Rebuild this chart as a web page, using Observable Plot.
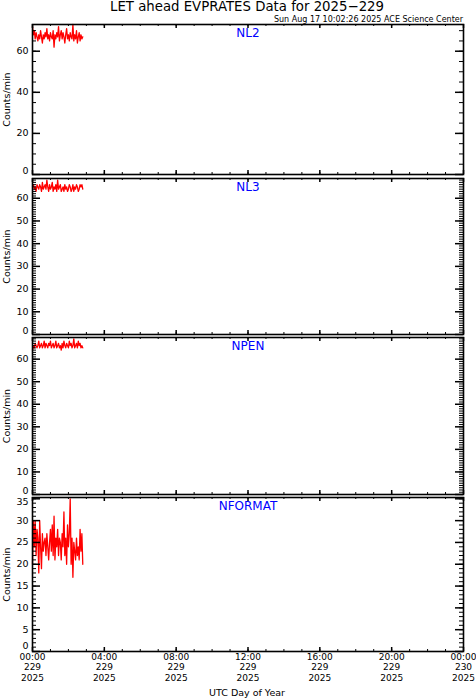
<!DOCTYPE html>
<html><head><meta charset="utf-8">
<script src="https://cdn.jsdelivr.net/npm/d3@7"></script>
<script src="https://cdn.jsdelivr.net/npm/@observablehq/plot@0.6"></script>
<style>
body{margin:0;background:#fff;}
#root{position:relative;width:476px;height:700px;font-family:"DejaVu Sans",sans-serif;color:#000;overflow:hidden;}
.abs{position:absolute;white-space:nowrap;}
#title{left:0;width:494px;top:0;text-align:center;font-size:13.3px;line-height:13px;}
#sub{right:13px;top:15px;font-size:8px;line-height:9px;}
#xlab{left:0;width:494px;top:687px;text-align:center;font-size:9.5px;line-height:12px;}
</style>
</head><body>
<div id="root">
  <div id="title" class="abs">LET ahead EVPRATES Data for 2025−229</div>
  <div id="sub" class="abs">Sun Aug 17 10:02:26 2025 ACE Science Center</div>
  <div id="xlab" class="abs">UTC Day of Year</div>
</div>
<script>
// ---- data ----
const stepMinutes = 3;   // sampling interval of the series (minutes from 00:00 UT)
const nl2 = [72,68,70,66,69,67,65,68,66,70,67,64,68,66,69,67,71,66,68,65,69,67,66,70,62,68,66,69,67,72,65,68,70,66,69,67,64,68,71,66,68,65,69,67,66,73,65,68,66,70,64,67,69,65,68,66,67];
const nl3 = [65,66,64,65,63,66,65,64,66,65,63,67,64,65,66,64,68,65,63,66,64,65,67,63,65,64,66,63,68,64,65,66,63,64,65,63,66,64,65,63,64,66,65,63,64,66,63,65,64,66,65,63,64,66,65,66,64];
const npen = [64,66,65,67,66,65,66,68,65,66,67,65,66,68,65,67,66,65,67,66,68,65,66,67,65,66,68,65,66,67,65,66,64,67,65,68,66,65,67,66,65,68,66,67,65,66,69,65,66,67,65,68,66,67,65,66,65];
const nformat = [20,30,24,30,22,28,26,18,30,24,19,27,23,25,26,22,27,24,21,25,28,23,29,22,31,21,26,24,28,22,26,25,21,27,24,32,22,26,20,29,24,27,35,20,26,17,25,23,21,26,22,24,21,28,23,27,20];
const panelNames = ["NL2","NL3","NPEN","NFORMAT"];
const hourTicks = [0,4,8,12,16,20,24];
const timeLabels = ["00:00","04:00","08:00","12:00","16:00","20:00","00:00"];
const dayLabels = ["229","229","229","229","229","229","230"];
const yearLabels = ["2025","2025","2025","2025","2025","2025","2025"];
const yMajor1 = [0,20,40,60];
const yMajor2 = [0,10,20,30,40,50,60];
const yMajor3 = [0,10,20,30,40,50,60];
const yMajor4 = [0,5,10,15,20,25,30,35];

// ---- layout ----
const W = 476, ML = 32, MR = 13, innerW = W - ML - MR;
const panels = [
  {name: panelNames[0], values: nl2, ymax: 73, major: yMajor1, minorStep: 5, top: 24, bottom: 174},
  {name: panelNames[1], values: nl3, ymax: 68.7, major: yMajor2, minorStep: 1, top: 178, bottom: 334},
  {name: panelNames[2], values: npen, ymax: 69.6, major: yMajor3, minorStep: 1, top: 337, bottom: 494},
  {name: panelNames[3], values: nformat, ymax: 35.3, major: yMajor4, minorStep: 1, top: 497, bottom: 651}
];
const root = document.getElementById("root");

panels.forEach((p, k) => {
  const isLast = k === panels.length - 1;
  const mt = 4, mb = isLast ? 46 : 4;
  const h = p.bottom - p.top;
  const data = p.values.map((v, i) => ({t: i * stepMinutes / 60, v}));
  const yMinor = d3.range(0, p.ymax + 1e-9, p.minorStep);
  const xMinor = d3.range(0, 24.0001, 1);
  // tick labels: the bottom one is lifted and one at the very top is lowered, as in the reference
  const bottomLab = p.major.filter(d => d === 0);
  const topLab = p.major.filter(d => d > 0 && p.ymax - d < 1);
  const midLab = p.major.filter(d => d > 0 && p.ymax - d >= 1);
  const labOpts = {anchor: "left", tickSize: 0, tickPadding: 4, label: null};
  const marks = [
    Plot.line(data, {x: "t", y: "v", stroke: "#ff0000", strokeWidth: 1.3}),
    Plot.ruleY(yMinor, {insetRight: innerW - 4, stroke: "black", strokeWidth: 1}),
    Plot.ruleY(yMinor, {insetLeft: innerW - 4, stroke: "black", strokeWidth: 1}),
    Plot.ruleY(p.major, {insetRight: innerW - 8, stroke: "black", strokeWidth: 1.5}),
    Plot.ruleY(p.major, {insetLeft: innerW - 8, stroke: "black", strokeWidth: 1.5}),
    Plot.ruleX(xMinor, {insetBottom: h - 2, stroke: "black", strokeWidth: 1}),
    Plot.ruleX(xMinor, {insetTop: h - 2, stroke: "black", strokeWidth: 1}),
    Plot.ruleX(hourTicks, {insetBottom: h - 4, stroke: "black", strokeWidth: 1.5}),
    Plot.ruleX(hourTicks, {insetTop: h - 4, stroke: "black", strokeWidth: 1.5}),
    Plot.frame({stroke: "black", strokeWidth: 1.6}),
    Plot.axisY(midLab, labOpts),
    Plot.axisY(bottomLab, {...labOpts, dy: isLast ? -5.5 : -3.5}),
    Plot.axisY(topLab, {...labOpts, dy: 3}),
    Plot.axisY([], {anchor: "left", tickSize: 0, label: "Counts/min", labelAnchor: "center", labelOffset: 29, labelArrow: "none"}),
    Plot.text([p.name], {frameAnchor: "top", dy: 9, lineAnchor: "middle", fill: "#0000ff", fontSize: 12})
  ];
  if (isLast) {
    const xl = {anchor: "bottom", tickSize: 0, label: null, fontSize: 9};
    marks.push(
      Plot.axisX(hourTicks, {...xl, tickPadding: 2, tickFormat: d => timeLabels[hourTicks.indexOf(d)]}),
      Plot.axisX(hourTicks, {...xl, tickPadding: 2, dy: 10.5, tickFormat: d => dayLabels[hourTicks.indexOf(d)]}),
      Plot.axisX(hourTicks, {...xl, tickPadding: 2, dy: 21, tickFormat: d => yearLabels[hourTicks.indexOf(d)]})
    );
  } else {
    marks.push(Plot.axisX([], {label: null, tickSize: 0}));
  }
  const chart = Plot.plot({
    width: W, height: h + mt + mb,
    marginLeft: ML, marginRight: MR, marginTop: mt, marginBottom: mb,
    x: {domain: [0, 24], label: null},
    y: {domain: [0, p.ymax], label: null},
    style: {fontFamily: "DejaVu Sans, sans-serif", fontSize: "9.5px", background: "transparent", overflow: "visible", color: "black"},
    marks
  });
  chart.style.position = "absolute";
  chart.style.left = "0px";
  chart.style.top = (p.top - mt) + "px";
  root.appendChild(chart);
});
</script>
</body></html>
